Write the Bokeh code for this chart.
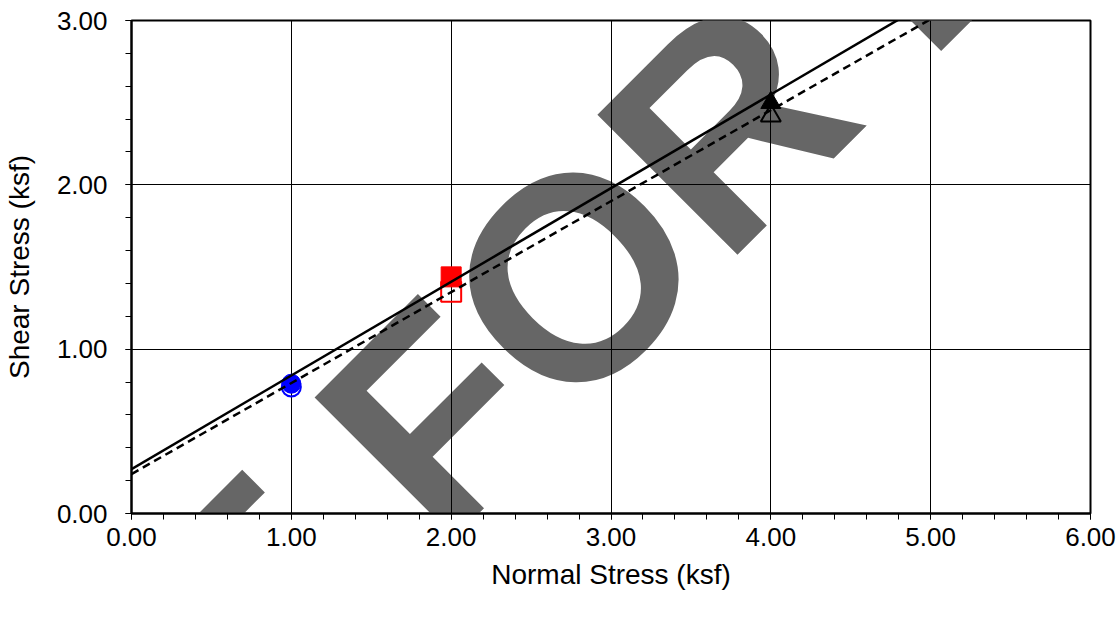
import numpy as np
from bokeh.plotting import figure
from bokeh.models import Range1d, FixedTicker, NumeralTickFormatter
from bokeh.core.properties import value
from bokeh.embed import file_html
from bokeh.resources import INLINE

# ---- data ----
normal_stress = [1.0, 2.0, 4.0]
peak_shear = [0.79, 1.44, 2.50]
ultimate_shear = [0.77, 1.35, 2.42]
peak_fit = {"c": 0.27, "slope": 0.570}
ultimate_fit = {"c": 0.24, "slope": 0.5536}
fit_x = [0.0, 6.0]
x_ticks = [0, 1, 2, 3, 4, 5, 6]
y_ticks = [0, 1, 2, 3]
x_minor = [round(0.2 * i, 1) for i in range(31)]
y_minor = [round(0.2 * i, 1) for i in range(16)]
marker_colors = ["blue", "red", "black"]
marker_types = ["circle", "square", "triangle"]
watermark = "NOT FOR DESIGN"

FONT = "Liberation Sans"

p = figure(width=1120, height=617, output_backend="svg", toolbar_location=None,
           x_range=Range1d(0, 6), y_range=Range1d(0, 3),
           min_border_left=131, min_border_right=30, min_border_top=20, min_border_bottom=104)
p.background_fill_color = "white"
p.border_fill_color = "white"
p.outline_line_color = "black"
p.outline_line_width = 2

# watermark behind everything
p.text(x=[-1.549], y=[-2.759], text=[watermark], angle=float(np.deg2rad(45)),
       text_font=value(FONT), text_font_size=value("288px"), text_font_style="bold",
       text_color="#666666", text_align="left", text_baseline="alphabetic", level="image")

for ax, ticks, minor in ((p.xaxis[0], x_ticks, x_minor), (p.yaxis[0], y_ticks, y_minor)):
    ax.ticker = FixedTicker(ticks=ticks, minor_ticks=minor)
    ax.formatter = NumeralTickFormatter(format="0.00")
    ax.axis_line_width = 2
    ax.axis_line_color = "black"
    ax.major_tick_out = 6
    ax.major_tick_in = 0
    ax.minor_tick_out = 6
    ax.minor_tick_in = 0
    ax.major_tick_line_color = "black"
    ax.minor_tick_line_color = "black"
    ax.major_label_text_font = FONT
    ax.major_label_text_font_size = "26px"
    ax.major_label_text_color = "black"
    ax.axis_label_text_font = FONT
    ax.axis_label_text_font_size = "28px"
    ax.axis_label_text_font_style = "normal"
    ax.axis_label_text_color = "black"

p.xaxis.axis_label = "Normal Stress (ksf)"
p.yaxis.axis_label = "Shear Stress (ksf)"
p.xaxis.major_label_standoff = 8
p.yaxis.major_label_standoff = 18
p.xaxis.axis_label_standoff = 10
p.yaxis.axis_label_standoff = 19

p.xgrid.ticker = FixedTicker(ticks=x_ticks[1:-1])
p.ygrid.ticker = FixedTicker(ticks=y_ticks[1:-1])
for g in (p.xgrid[0], p.ygrid[0]):
    g.grid_line_color = "black"
    g.grid_line_width = 1

# markers
for i in range(len(normal_stress)):
    c = marker_colors[i]
    m = marker_types[i]
    sz = 19 if m == "circle" else 20
    p.scatter([normal_stress[i]], [ultimate_shear[i]], marker=m, size=sz,
              fill_color=None, line_color=c, line_width=2)
    p.scatter([normal_stress[i]], [peak_shear[i]], marker=m, size=sz,
              fill_color=c, line_color=c, line_width=1)

# fit lines
peak_y = [peak_fit["c"] + peak_fit["slope"] * x for x in fit_x]
ult_y = [ultimate_fit["c"] + ultimate_fit["slope"] * x for x in fit_x]
p.line(fit_x, peak_y, line_color="black", line_width=2.5)
p.line(fit_x, ult_y, line_color="black", line_width=2.5, line_dash="8 5")

open("out.html", "w").write(file_html(p, INLINE))
